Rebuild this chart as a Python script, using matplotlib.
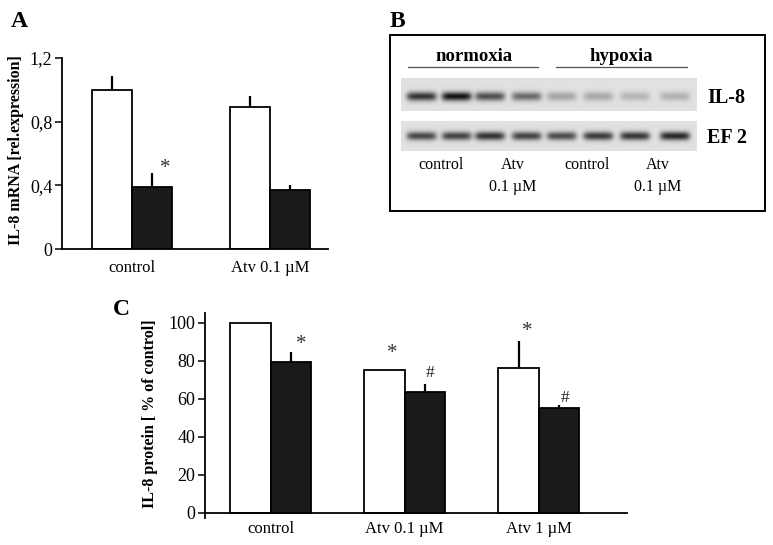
import numpy as np
import matplotlib
matplotlib.use("Agg")
import matplotlib.pyplot as plt
from matplotlib.patches import Rectangle
from matplotlib.lines import Line2D

plt.rcParams['font.family'] = ['Liberation Serif', 'DejaVu Serif']

# ---------------- data ----------------
# Panel A: IL-8 mRNA (relative expression)
a_groups = ["control", "Atv 0.1 \u00b5M"]
a_normoxia = [1.00, 0.89]
a_normoxia_err = [0.087, 0.073]
a_hypoxia = [0.39, 0.37]
a_hypoxia_err = [0.087, 0.03]
a_yticks = [0, 0.4, 0.8, 1.2]
a_yticklabels = ["0", "0,4", "0,8", "1,2"]

# Panel B: gel band intensities (8 lanes)
b_il8 = [0.80, 0.95, 0.68, 0.55, 0.28, 0.26, 0.20, 0.22]
b_ef2 = [0.70, 0.72, 0.80, 0.72, 0.68, 0.76, 0.78, 0.85]
b_lane_top = ["control", "Atv", "control", "Atv"]
b_lane_bottom = ["", "0.1 \u00b5M", "", "0.1 \u00b5M"]

# Panel C: IL-8 protein (% of control)
c_groups = ["control", "Atv 0.1 \u00b5M", "Atv 1 \u00b5M"]
c_normoxia = [100.0, 74.9, 76.0]
c_normoxia_err = [0.0, 0.0, 14.4]
c_hypoxia = [79.2, 63.4, 54.9]
c_hypoxia_err = [5.4, 4.5, 1.6]
c_yticks = [0, 20, 40, 60, 80, 100]

W, H = 773, 545
fig = plt.figure(figsize=(W / 100, H / 100), dpi=100)


def rect(x0, y0, x1, y1):
    return [x0 / W, 1 - y1 / H, (x1 - x0) / W, (y1 - y0) / H]


def fx(x):
    return x / W


def fy(y):
    return 1 - y / H


def style_axes(ax):
    for s in ["top", "right"]:
        ax.spines[s].set_visible(False)
    ax.spines["left"].set_linewidth(1.3)
    ax.spines["bottom"].set_linewidth(1.3)
    ax.tick_params(axis="y", direction="out", length=5, width=1.1, pad=2,
                   labelsize=13)
    ax.tick_params(axis="x", length=0, pad=8, labelsize=12)


# ---------------- Panel A ----------------
axA = fig.add_axes(rect(62, 58, 328, 249))
w = 0.29
xa = np.arange(len(a_groups))
axA.bar(xa - w / 2, a_normoxia, w, color="white", edgecolor="black",
        linewidth=1.3, zorder=2)
axA.bar(xa + w / 2, a_hypoxia, w, color="#1a1a1a", edgecolor="black",
        linewidth=1.3, zorder=2)
for i in range(len(a_groups)):
    axA.vlines(xa[i] - w / 2, a_normoxia[i], a_normoxia[i] + a_normoxia_err[i],
               color="black", lw=1.6, zorder=3)
    axA.vlines(xa[i] + w / 2, a_hypoxia[i], a_hypoxia[i] + a_hypoxia_err[i],
               color="black", lw=1.6, zorder=3)
axA.text(0.24, 0.505, "*", ha="center", va="center", fontsize=15,
         color="#333333")
axA.set_xlim(-0.507, 1.42)
axA.set_ylim(0, 1.2)
axA.set_yticks(a_yticks)
axA.set_yticklabels(a_yticklabels)
axA.set_xticks(xa)
axA.set_xticklabels(a_groups)
style_axes(axA)
fig.text(fx(16.5), fy(150), "IL-8 mRNA [rel.expression]", rotation=90,
         ha="center", va="center", fontsize=11.5, fontweight="bold")
fig.text(fx(11), fy(27), "A", fontsize=17, fontweight="bold", ha="left",
         va="baseline")

# ---------------- Panel B ----------------
fig.add_artist(Rectangle((fx(390), fy(210.7)), (765 - 390) / W,
                         (210.7 - 35) / H, transform=fig.transFigure,
                         fill=False, edgecolor="black", lw=1.4))
fig.text(fx(390), fy(27), "B", fontsize=17, fontweight="bold", ha="left",
         va="baseline")

lane_px = [421.7, 456.7, 490.0, 526.7, 561.7, 598.3, 635.0, 675.0]
gx0, gx1 = 401, 697


def gel(ax, intens, y0, y1, bandc):
    nx = int(gx1 - gx0)
    ny = int(round(y1 - y0))
    xs = np.arange(nx) + 0.5 + gx0
    ys = np.arange(ny) + 0.5 + y0
    X, Y = np.meshgrid(xs, ys)
    img = np.full_like(X, 0.88)
    for lp, it in zip(lane_px, intens):
        prof = np.exp(-((X - lp) / 15.0) ** 6) * np.exp(-((Y - bandc) / 4.3) ** 2)
        img -= 0.85 * it * prof
    ax.imshow(img, cmap="gray", vmin=0, vmax=1, aspect="auto",
              extent=[gx0, gx1, y1, y0], interpolation="bilinear")
    ax.set_xlim(gx0, gx1)
    ax.set_ylim(y1, y0)
    ax.axis("off")


axG1 = fig.add_axes(rect(gx0, 77.7, gx1, 111))
gel(axG1, b_il8, 77.7, 111, 96.5)
axG2 = fig.add_axes(rect(gx0, 121, gx1, 150.7))
gel(axG2, b_ef2, 121, 150.7, 136)

fig.text(fx(474), fy(61), "normoxia", fontsize=13.5, fontweight="bold",
         ha="center", va="baseline")
fig.text(fx(621), fy(61), "hypoxia", fontsize=13.5, fontweight="bold",
         ha="center", va="baseline")
fig.add_artist(Line2D([fx(407.7), fx(538)], [fy(66.7), fy(66.7)],
                      transform=fig.transFigure, color="#555555", lw=0.9))
fig.add_artist(Line2D([fx(555.7), fx(686.7)], [fy(66.7), fy(66.7)],
                      transform=fig.transFigure, color="#555555", lw=0.9))
fig.text(fx(707), fy(102.7), "IL-8", fontsize=14.5, fontweight="bold",
         ha="left", va="baseline")
fig.text(fx(707), fy(142.7), "EF 2", fontsize=14.5, fontweight="bold",
         ha="left", va="baseline")
lab_x = [441, 513, 586.7, 658]
for lx, top, bot in zip(lab_x, b_lane_top, b_lane_bottom):
    fig.text(fx(lx), fy(169.3), top, fontsize=11.5, ha="center",
             va="baseline")
    if bot:
        fig.text(fx(lx), fy(190.7), bot, fontsize=11.5, ha="center",
                 va="baseline")

# ---------------- Panel C ----------------
axC = fig.add_axes(rect(205, 313, 626.7, 518))
wc = 0.30
xc = np.arange(len(c_groups))
axC.bar(xc - wc / 2, c_normoxia, wc, color="white", edgecolor="black",
        linewidth=1.3, zorder=2)
axC.bar(xc + wc / 2, c_hypoxia, wc, color="#1a1a1a", edgecolor="black",
        linewidth=1.3, zorder=2)
for i in range(len(c_groups)):
    if c_normoxia_err[i] > 0:
        axC.vlines(xc[i] - wc / 2, c_normoxia[i], c_normoxia[i] + c_normoxia_err[i],
                   color="black", lw=1.6, zorder=3)
    if c_hypoxia_err[i] > 0:
        axC.vlines(xc[i] + wc / 2, c_hypoxia[i], c_hypoxia[i] + c_hypoxia_err[i],
                   color="black", lw=1.6, zorder=3)
for xm, ym in [(0.229, 88.5), (0.908, 83.7), (1.917, 95.5)]:
    axC.text(xm, ym, "*", ha="center", va="center", fontsize=15,
             color="#333333")
for xm, ym in [(1.193, 73.7), (2.199, 60.4)]:
    axC.text(xm, ym, "#", ha="center", va="center", fontsize=12.5,
             color="#222222")
axC.set_xlim(-0.49, 2.657)
axC.set_ylim(-2.8, 105.1)
axC.spines["bottom"].set_position(("data", 0))
axC.set_yticks(c_yticks)
axC.set_xticks(xc)
axC.set_xticklabels(c_groups)
style_axes(axC)
axC.tick_params(axis="x", pad=6)
fig.text(fx(150.5), fy(414), "IL-8 protein [ % of control]", rotation=90,
         ha="center", va="center", fontsize=11.5, fontweight="bold")
fig.text(fx(113), fy(315), "C", fontsize=17, fontweight="bold", ha="left",
         va="baseline")

fig.savefig("out.png", dpi=100)
